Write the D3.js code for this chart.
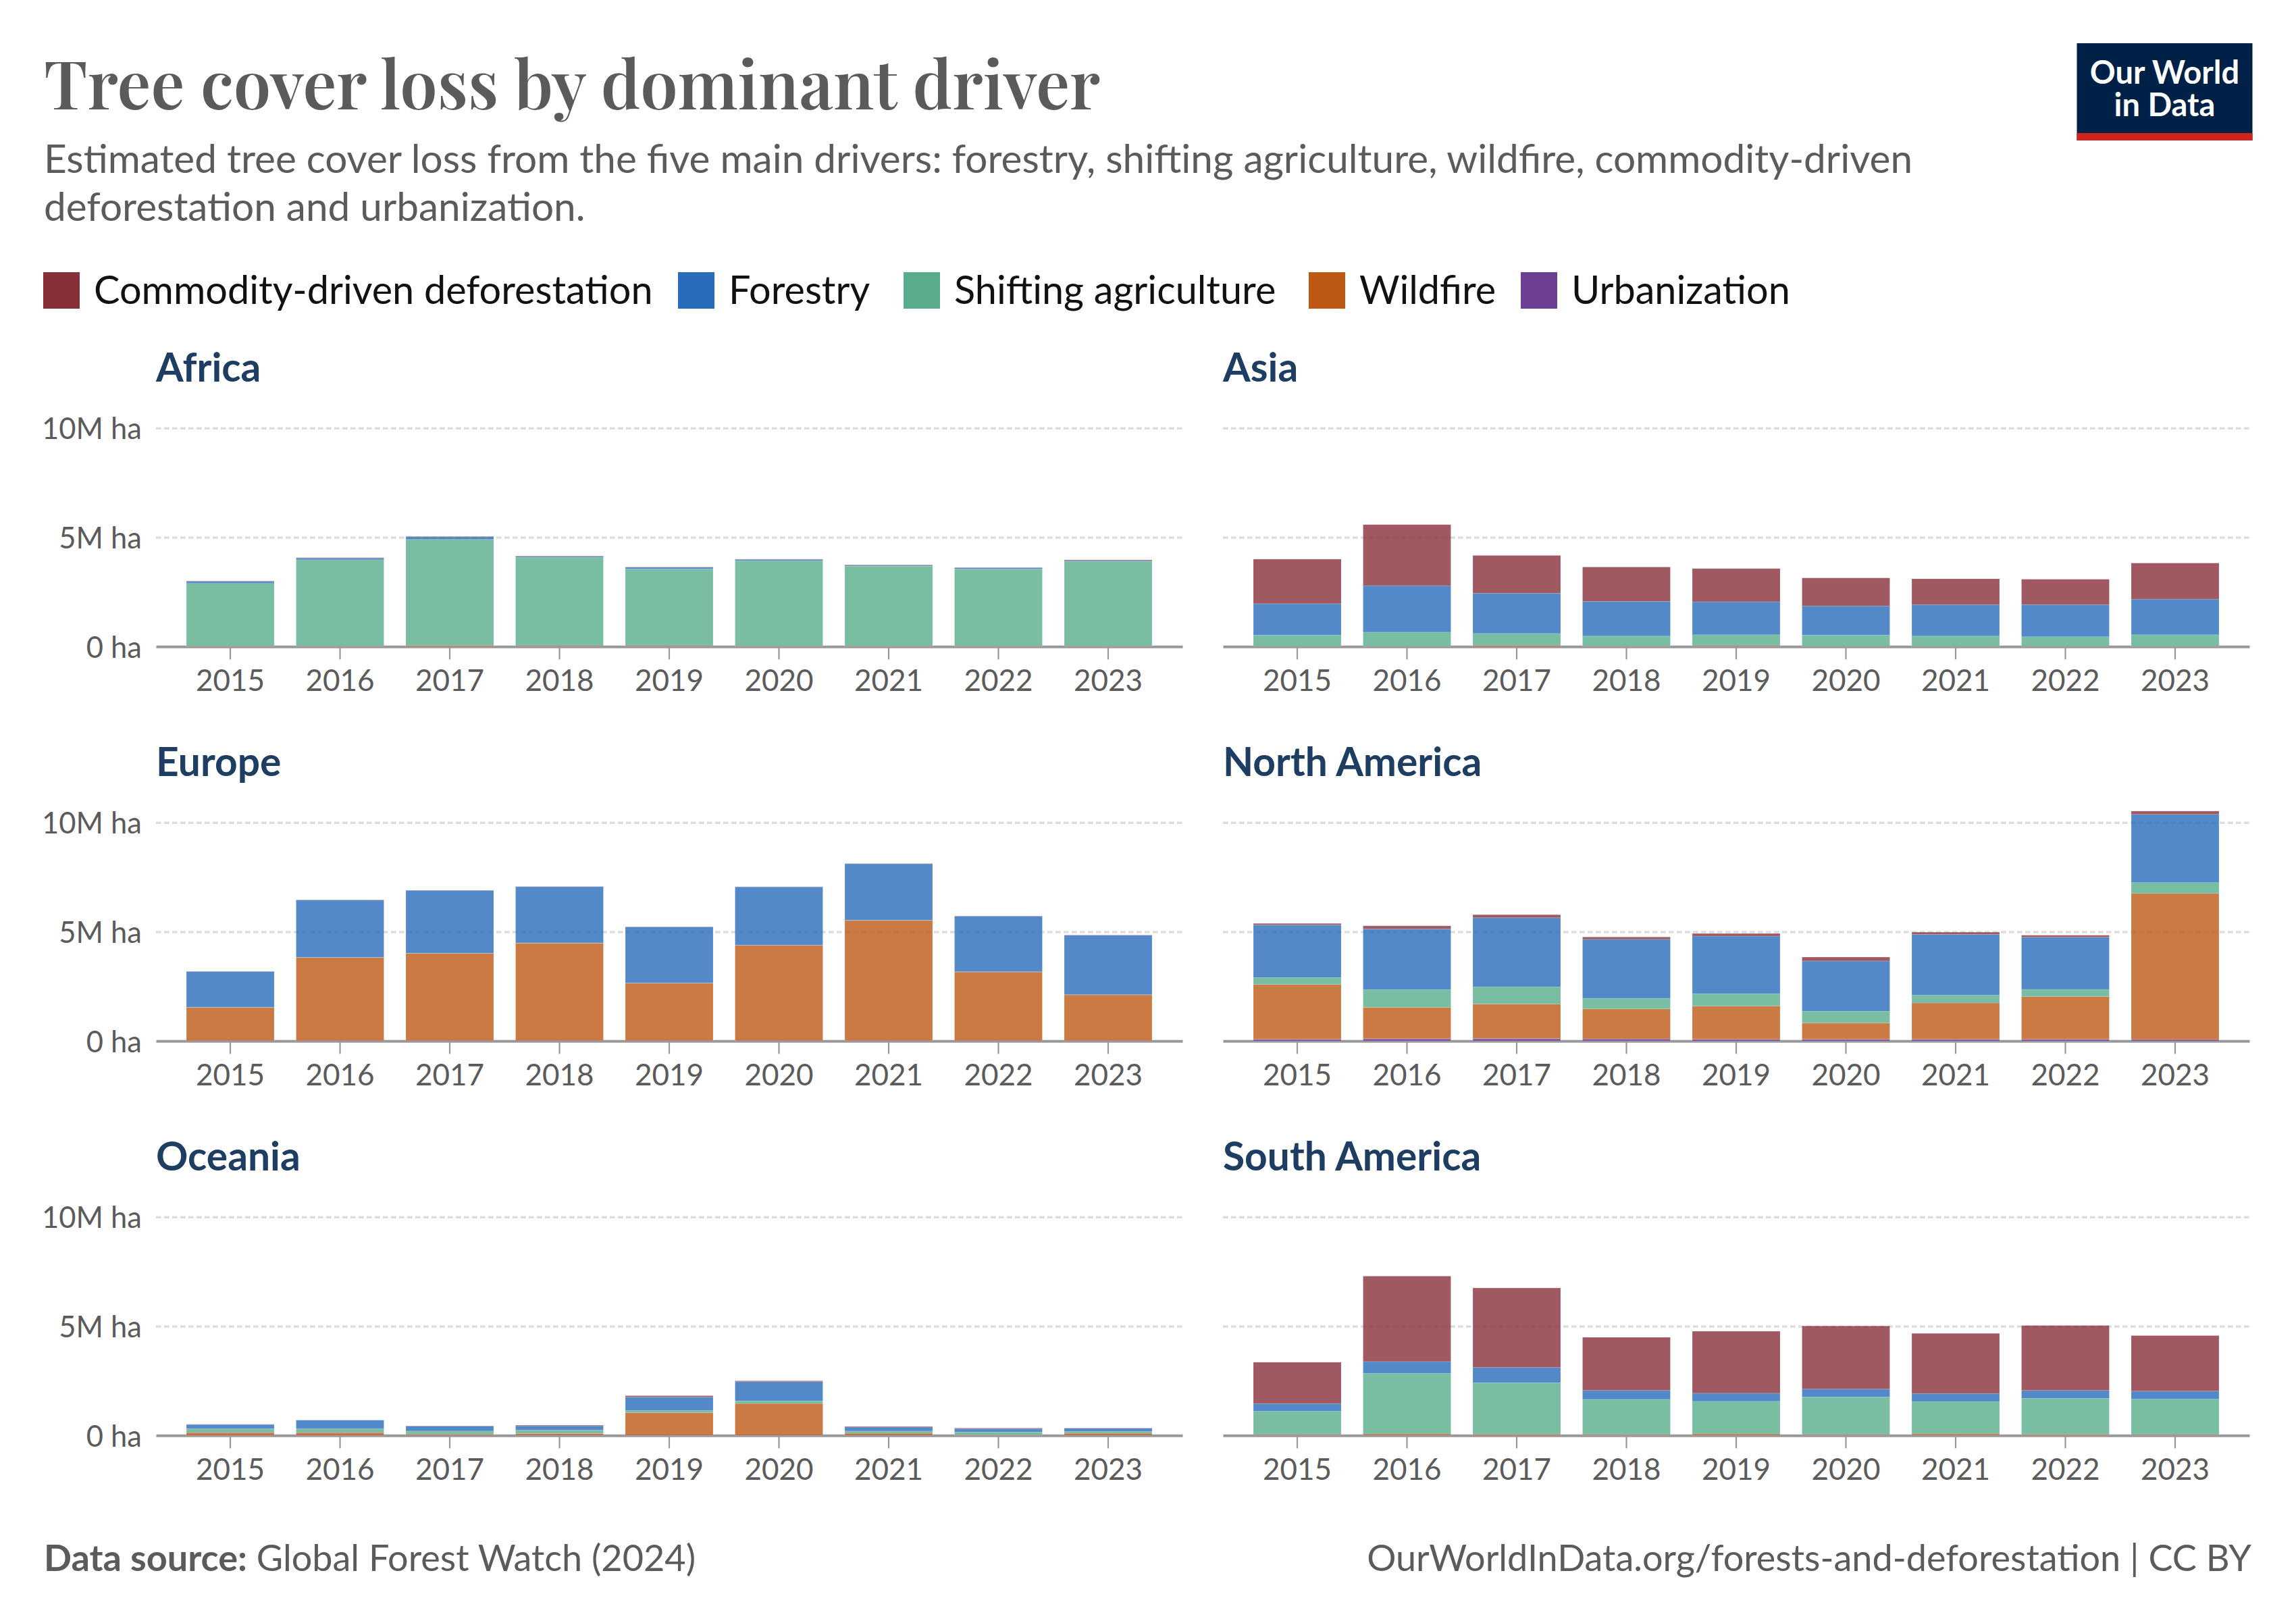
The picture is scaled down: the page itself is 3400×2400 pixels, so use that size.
<!DOCTYPE html>
<html>
<head>
<meta charset="utf-8">
<script src="https://cdn.jsdelivr.net/npm/d3@7"></script>
<style>
    html, body { margin: 0; padding: 0; background: #fff; }
    svg { display: block; }
    text { font-family: Lato, "Noto Sans", sans-serif; }
</style>
</head>
<body>
<script>
// values in million hectares, one row per region, one column per year
var years = [2015, 2016, 2017, 2018, 2019, 2020, 2021, 2022, 2023];
var regions = ["Africa", "Asia", "Europe", "North America", "Oceania", "South America"];
var yTicks = [0, 5, 10];
var yTickLabels = ["0 ha", "5M ha", "10M ha"];

var urbanization = [
    [0.01, 0.01, 0.01, 0.01, 0.01, 0.01, 0.01, 0.01, 0.01],
    [0.01, 0.01, 0.01, 0.01, 0.01, 0.01, 0.01, 0.01, 0.01],
    [0.02, 0.02, 0.02, 0.02, 0.02, 0.02, 0.02, 0.02, 0.02],
    [0.08, 0.11, 0.12, 0.10, 0.08, 0.08, 0.08, 0.08, 0.07],
    [0.01, 0.01, 0.01, 0.01, 0.01, 0.01, 0.01, 0.01, 0.01],
    [0.01, 0.01, 0.01, 0.01, 0.01, 0.01, 0.01, 0.01, 0.01]
];
var wildfire = [
    [0.02, 0.02, 0.04, 0.03, 0.03, 0.02, 0.02, 0.02, 0.02],
    [0.01, 0.01, 0.05, 0.02, 0.03, 0.01, 0.01, 0.01, 0.01],
    [1.52, 3.80, 3.99, 4.46, 2.63, 4.36, 5.50, 3.14, 2.09],
    [2.51, 1.43, 1.57, 1.37, 1.52, 0.74, 1.66, 1.95, 6.68],
    [0.12, 0.12, 0.05, 0.08, 1.03, 1.45, 0.09, 0.02, 0.09],
    [0.03, 0.06, 0.05, 0.03, 0.06, 0.03, 0.06, 0.04, 0.03]
];
var shifting = [
    [2.86, 3.94, 4.85, 4.05, 3.51, 3.90, 3.65, 3.52, 3.87],
    [0.50, 0.64, 0.54, 0.45, 0.50, 0.50, 0.46, 0.43, 0.52],
    [0.01, 0.01, 0.01, 0.01, 0.01, 0.01, 0.01, 0.01, 0.01],
    [0.31, 0.81, 0.79, 0.48, 0.56, 0.54, 0.36, 0.33, 0.50],
    [0.18, 0.18, 0.14, 0.15, 0.10, 0.12, 0.10, 0.13, 0.08],
    [1.07, 2.77, 2.35, 1.61, 1.49, 1.72, 1.48, 1.65, 1.62]
];
var forestry = [
    [0.09, 0.08, 0.12, 0.04, 0.08, 0.06, 0.04, 0.06, 0.04],
    [1.44, 2.13, 1.84, 1.59, 1.51, 1.34, 1.44, 1.47, 1.63],
    [1.63, 2.62, 2.87, 2.57, 2.56, 2.66, 2.58, 2.54, 2.72],
    [2.41, 2.78, 3.16, 2.70, 2.64, 2.30, 2.78, 2.39, 3.12],
    [0.19, 0.39, 0.23, 0.20, 0.62, 0.88, 0.18, 0.15, 0.15],
    [0.35, 0.54, 0.70, 0.41, 0.37, 0.36, 0.37, 0.36, 0.37]
];
var commodity = [
    [0.02, 0.02, 0.02, 0.02, 0.01, 0.01, 0.02, 0.01, 0.03],
    [2.04, 2.79, 1.73, 1.57, 1.52, 1.28, 1.18, 1.16, 1.65],
    [0.01, 0.01, 0.01, 0.01, 0.01, 0.01, 0.01, 0.01, 0.01],
    [0.07, 0.14, 0.14, 0.11, 0.12, 0.18, 0.10, 0.09, 0.15],
    [0.01, 0.00, 0.01, 0.03, 0.06, 0.04, 0.03, 0.03, 0.01],
    [1.89, 3.91, 3.64, 2.43, 2.84, 2.89, 2.75, 2.97, 2.54]
];

// bottom to top in the stack
var stackKeys = ["urbanization", "wildfire", "shifting", "forestry", "commodity"];
var seriesValues = {
    urbanization: urbanization,
    wildfire: wildfire,
    shifting: shifting,
    forestry: forestry,
    commodity: commodity
};
var colors = {
    commodity: "#883039",
    forestry: "#286BBB",
    shifting: "#58AC8C",
    wildfire: "#BE5915",
    urbanization: "#6D3E91"
};

var legendKeys = ["commodity", "forestry", "shifting", "wildfire", "urbanization"];
var legendLabels = ["Commodity-driven deforestation", "Forestry", "Shifting agriculture", "Wildfire", "Urbanization"];
var legendLefts = [64, 1004, 1338, 1938, 2252];

var width = 3400,
    height = 2400,
    panelWidth = 1520,
    colLefts = [231, 1811],
    rowBases = [957.3, 1541.3, 2125.3],
    panelHeight = 323.6,
    grey = "#5b5b5b";

var svg = d3.select("body").append("svg")
    .attr("width", width)
    .attr("height", height)
    .attr("viewBox", "0 0 " + width + " " + height)
    .style("background-color", "#fff");

// header
svg.append("text")
    .attr("x", 65)
    .attr("y", 162)
    .style("font-family", "'Playfair Display', 'Liberation Serif', serif")
    .style("font-weight", 600)
    .style("font-size", "99px")
    .style("fill", grey)
    .text("Tree cover loss by dominant driver");

svg.selectAll("text.subtitle")
    .data([
        "Estimated tree cover loss from the five main drivers: forestry, shifting agriculture, wildfire, commodity-driven",
        "deforestation and urbanization."
    ])
    .enter().append("text")
        .classed("subtitle", true)
        .attr("x", 65)
        .attr("y", function(d, i) { return 256 + i * 70.5; })
        .style("font-size", "58.5px")
        .style("fill", grey)
        .text(function(d) { return d; });

// logo
var logo = svg.append("g");
logo.append("rect").attr("x", 3075.5).attr("y", 64).attr("width", 260).attr("height", 144).style("fill", "#002147");
logo.append("rect").attr("x", 3075.5).attr("y", 197).attr("width", 260).attr("height", 11).style("fill", "#CE261E");
logo.selectAll("text")
    .data(["Our World", "in Data"])
    .enter().append("text")
        .attr("x", 3205.5)
        .attr("y", function(d, i) { return 124 + i * 48; })
        .attr("text-anchor", "middle")
        .style("font-size", "47px")
        .style("font-weight", 700)
        .style("fill", "#fff")
        .text(function(d) { return d; });

// legend
var legendItems = svg.selectAll("g.legend-item")
    .data(legendKeys)
    .enter().append("g")
        .classed("legend-item", true)
        .attr("transform", function(d, i) { return "translate(" + legendLefts[i] + ",403)"; });

legendItems.append("rect")
    .attr("width", 54)
    .attr("height", 54)
    .style("fill", function(d) { return colors[d]; });

legendItems.append("text")
    .attr("x", 75)
    .attr("y", 46.5)
    .style("font-size", "57.6px")
    .style("fill", "#111")
    .text(function(d, i) { return legendLabels[i]; });

var stack = d3.stack().keys(d3.range(stackKeys.length));

var xScale = d3.scaleBand()
    .domain(years)
    .range([0, panelWidth])
    .paddingInner(0.2)
    .paddingOuter(0.277);

var yScale = d3.scaleLinear()
    .domain([0, 10])
    .range([0, -panelHeight]);

regions.forEach(function(region, r) {
    var col = r % 2;
    var row = Math.floor(r / 2);
    var panel = svg.append("g")
        .attr("transform", "translate(" + colLefts[col] + "," + rowBases[row] + ")");

    panel.append("text")
        .attr("x", 0)
        .attr("y", -392.5)
        .style("font-size", "58.7px")
        .style("font-weight", 700)
        .style("fill", "#1d3d63")
        .text(region);

    // dashed grid lines
    var grid = panel.append("g")
        .call(d3.axisLeft(yScale)
            .tickValues(yTicks.slice(1))
            .tickSize(-panelWidth)
            .tickFormat(""));
    grid.select(".domain").remove();
    grid.selectAll("line")
        .style("stroke", "#ddd")
        .style("stroke-width", 3.4)
        .style("stroke-dasharray", "7.6,4.4");

    // labels only on the left column
    if (col === 0) {
        var yAxis = panel.append("g")
            .call(d3.axisLeft(yScale)
                .tickValues(yTicks)
                .tickSize(0)
                .tickPadding(21)
                .tickFormat(function(d, i) { return yTickLabels[i]; }));
        yAxis.select(".domain").remove();
        yAxis.selectAll("text")
            .attr("dy", "0.37em")
            .style("font-family", "Lato, sans-serif")
            .style("font-size", "43.5px")
            .style("fill", grey);
    }

    var xAxis = panel.append("g")
        .call(d3.axisBottom(xScale)
            .tickSize(19)
            .tickSizeOuter(0)
            .tickPadding(15));
    xAxis.select(".domain")
        .style("stroke", "#999")
        .style("stroke-width", 4);
    xAxis.selectAll("line")
        .style("stroke", "#999")
        .style("stroke-width", 2.2);
    xAxis.selectAll("text")
        .style("font-family", "Lato, sans-serif")
        .style("font-size", "44px")
        .style("fill", grey);

    var rows = years.map(function(y, i) {
        return stackKeys.map(function(k) { return seriesValues[k][r][i]; });
    });

    panel.selectAll("g.layer")
        .data(stack(rows))
        .enter().append("g")
            .classed("layer", true)
            .style("fill", function(d) { return colors[stackKeys[d.key]]; })
            .style("fill-opacity", 0.8)
            .style("stroke", "#fff")
            .style("stroke-opacity", 0.2)
            .style("stroke-width", 0.8)
        .selectAll("rect")
            .data(function(d) { return d; })
            .enter().append("rect")
                .attr("x", function(d, i) { return xScale(years[i]); })
                .attr("width", xScale.bandwidth())
                .attr("y", function(d) { return yScale(d[1]); })
                .attr("height", function(d) { return yScale(d[0]) - yScale(d[1]); });
});

// footer
var source = svg.append("text")
    .attr("x", 65)
    .attr("y", 2326)
    .style("font-size", "54px")
    .style("fill", grey);
source.append("tspan").style("font-weight", 700).text("Data source:");
source.append("tspan").text(" Global Forest Watch (2024)");

svg.append("text")
    .attr("x", 3334)
    .attr("y", 2326)
    .attr("text-anchor", "end")
    .style("font-size", "54px")
    .style("fill", grey)
    .text("OurWorldInData.org/forests-and-deforestation | CC BY");
</script>
</body>
</html>
